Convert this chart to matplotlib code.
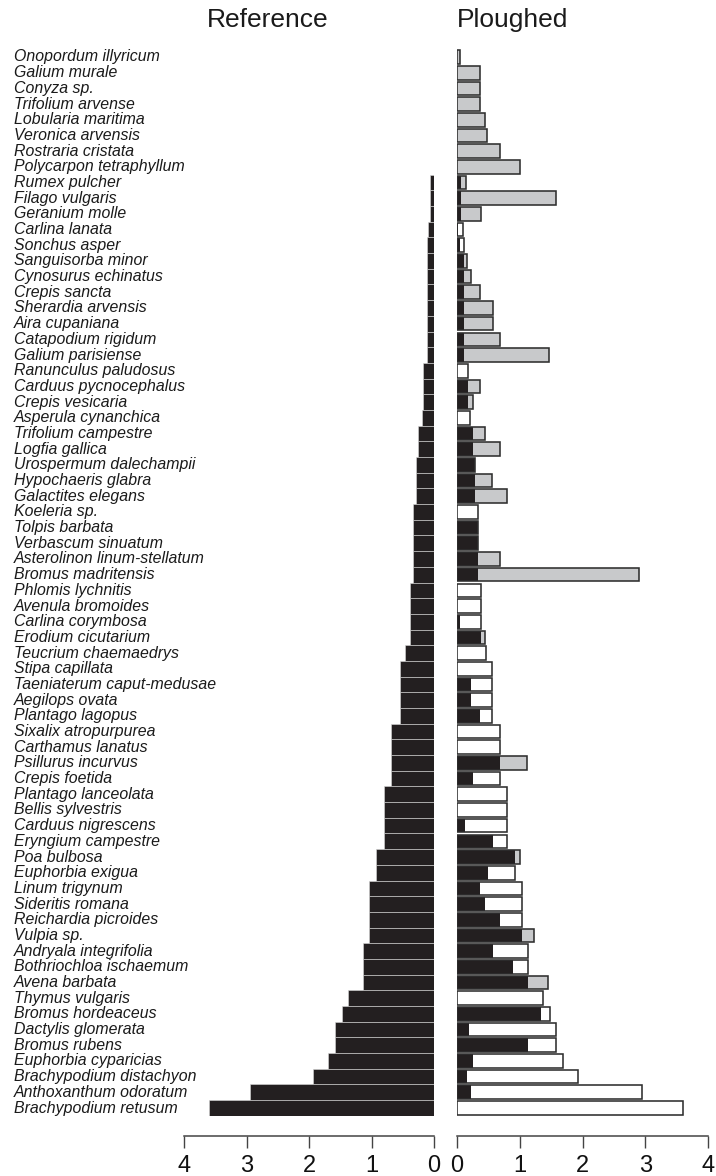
import numpy as np
import matplotlib
matplotlib.use("Agg")
import matplotlib.pyplot as plt
import matplotlib.transforms as mtrans

plt.rcParams['font.family'] = ['Liberation Sans', 'DejaVu Sans']

species = [
    "Onopordum illyricum", "Galium murale", "Conyza sp.", "Trifolium arvense",
    "Lobularia maritima", "Veronica arvensis", "Rostraria cristata",
    "Polycarpon tetraphyllum", "Rumex pulcher", "Filago vulgaris",
    "Geranium molle", "Carlina lanata", "Sonchus asper", "Sanguisorba minor",
    "Cynosurus echinatus", "Crepis sancta", "Sherardia arvensis",
    "Aira cupaniana", "Catapodium rigidum", "Galium parisiense",
    "Ranunculus paludosus", "Carduus pycnocephalus", "Crepis vesicaria",
    "Asperula cynanchica", "Trifolium campestre", "Logfia gallica",
    "Urospermum dalechampii", "Hypochaeris glabra", "Galactites elegans",
    "Koeleria sp.", "Tolpis barbata", "Verbascum sinuatum",
    "Asterolinon linum-stellatum", "Bromus madritensis", "Phlomis lychnitis",
    "Avenula bromoides", "Carlina corymbosa", "Erodium cicutarium",
    "Teucrium chaemaedrys", "Stipa capillata", "Taeniaterum caput-medusae",
    "Aegilops ovata", "Plantago lagopus", "Sixalix atropurpurea",
    "Carthamus lanatus", "Psillurus incurvus", "Crepis foetida",
    "Plantago lanceolata", "Bellis sylvestris", "Carduus nigrescens",
    "Eryngium campestre", "Poa bulbosa", "Euphorbia exigua", "Linum trigynum",
    "Sideritis romana", "Reichardia picroides", "Vulpia sp.",
    "Andryala integrifolia", "Bothriochloa ischaemum", "Avena barbata",
    "Thymus vulgaris", "Bromus hordeaceus", "Dactylis glomerata",
    "Bromus rubens", "Euphorbia cyparicias", "Brachypodium distachyon",
    "Anthoxanthum odoratum", "Brachypodium retusum",
]

reference = [
    0, 0, 0, 0, 0, 0, 0, 0,
    0.06, 0.06, 0.06, 0.09, 0.11, 0.11, 0.11, 0.11, 0.11, 0.11, 0.11, 0.11,
    0.17, 0.17, 0.17, 0.20, 0.25, 0.25, 0.29, 0.29, 0.29, 0.34, 0.34, 0.34, 0.34, 0.34,
    0.38, 0.38, 0.38, 0.38, 0.46, 0.55, 0.55, 0.55, 0.55, 0.69, 0.69, 0.69, 0.69,
    0.80, 0.80, 0.80, 0.80, 0.93, 0.93, 1.04, 1.04, 1.04, 1.04, 1.13, 1.13, 1.13,
    1.37, 1.48, 1.58, 1.58, 1.69, 1.93, 2.95, 3.60,
]

ploughed = [
    0.055, 0.36, 0.36, 0.36, 0.44, 0.48, 0.68, 1.01,
    0.15, 1.57, 0.38, 0.02, 0.04, 0.16, 0.22, 0.37, 0.57, 0.57, 0.68, 1.46,
    0, 0.37, 0.25, 0, 0.44, 0.68, 0.29, 0.56, 0.80, 0, 0.34, 0.34, 0.68, 2.90,
    0, 0, 0.04, 0.44, 0, 0, 0.22, 0.22, 0.37, 0, 0, 1.12, 0.25,
    0, 0, 0.13, 0.58, 1.01, 0.49, 0.37, 0.45, 0.69, 1.22, 0.58, 0.90, 1.45,
    0, 1.34, 0.19, 1.13, 0.25, 0.16, 0.22, 0,
]

ticks = [0, 1, 2, 3, 4]

W, H = 716, 1176
fig = plt.figure(figsize=(W / 100, H / 100), dpi=100)

ref = np.array(reference)
plo = np.array(ploughed)
n = len(species)
ypos = np.arange(1, n + 1)

row_top, row_bot = 49.15, 1115.85
ax_b = 1 - row_bot / H
ax_h = (row_bot - row_top) / H

axL = fig.add_axes([184 / W, ax_b, 250 / W, ax_h])
axR = fig.add_axes([457 / W, ax_b, 251 / W, ax_h])

BLACK = '#231f20'
GREY = '#c8c9cb'
EDGE = '#2e2e2e'

# Reference panel
axL.barh(ypos, ref, height=1.0, color=BLACK, edgecolor='#d8d8d8', linewidth=0.4)
axL.set_xlim(4, 0)

# Ploughed panel
total = np.maximum(ref, plo)
shared = np.minimum(ref, plo)
fills = [GREY if p > r else 'white' for r, p in zip(ref, plo)]
h = 0.87
axR.barh(ypos, total, height=h, color=fills, edgecolor='none')
axR.barh(ypos, shared, height=h, color=BLACK, edgecolor='none')
axR.barh(ypos, total, height=h, fill=False, edgecolor=EDGE, linewidth=1.15)
axR.set_xlim(0, 4)

for ax in (axL, axR):
    ax.set_ylim(n + 0.5, 0.5)
    ax.set_yticks([])
    for s in ('top', 'right', 'left'):
        ax.spines[s].set_visible(False)
    ax.spines['bottom'].set_position(('outward', 14.4))
    ax.spines['bottom'].set_color('#444444')
    ax.spines['bottom'].set_linewidth(1.1)
    ax.spines['bottom'].set_bounds(0, 4)
    ax.set_xticks(ticks)
    ax.set_xticklabels([str(t) for t in ticks])
    ax.tick_params(axis='x', length=8.5, width=1.0, color='#444444',
                   labelsize=17, pad=5.5, labelcolor='#111111')
    ax.set_facecolor('none')

# species labels
trans = mtrans.blended_transform_factory(fig.transFigure, axL.transData)
for yv, name in zip(ypos, species):
    axL.text(14 / W, yv, name, transform=trans, ha='left', va='center',
             fontsize=11.4, style='italic', color='#1a1a1a', clip_on=False)

fig.text(268 / W, 1 - 20 / H, "Reference", ha='center', va='center', fontsize=19, color='#1a1a1a')
fig.text(513 / W, 1 - 20 / H, "Ploughed", ha='center', va='center', fontsize=19, color='#1a1a1a')

fig.savefig("out.png", dpi=100)
